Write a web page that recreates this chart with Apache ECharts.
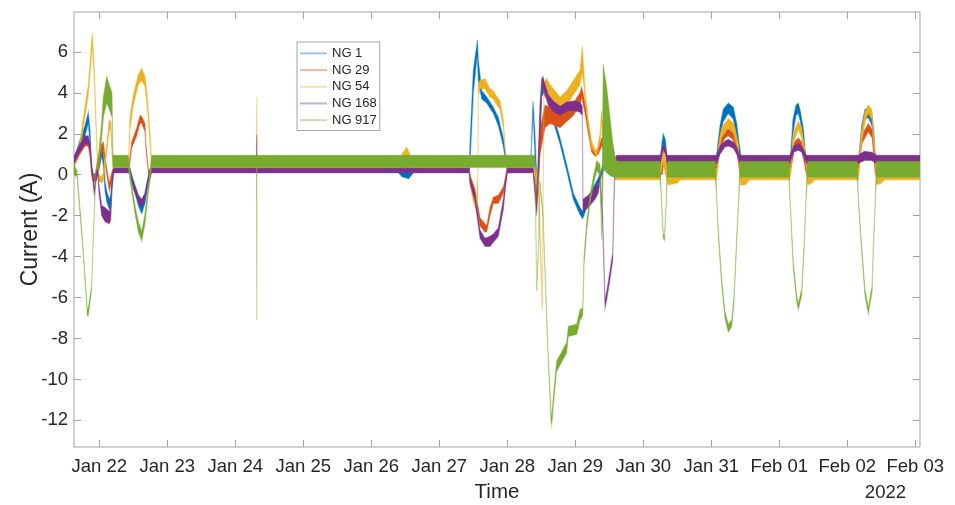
<!DOCTYPE html>
<html><head><meta charset="utf-8">
<script src="https://cdn.jsdelivr.net/npm/echarts@6/dist/echarts.min.js"></script>
<style>html,body{margin:0;padding:0;background:#fff}#chart{width:955px;height:505px}</style>
</head><body><div id="chart"></div>
<script>
// time in days of January 2022 (Feb 01 = 32), each row: [time, low envelope, high envelope] in A
const seriesNames = ['NG 1', 'NG 29', 'NG 54', 'NG 168', 'NG 917'];
const dayTicks = [22, 23, 24, 25, 26, 27, 28, 29, 30, 31, 32, 33, 34];
const dayLabels = ['Jan 22', 'Jan 23', 'Jan 24', 'Jan 25', 'Jan 26', 'Jan 27', 'Jan 28', 'Jan 29', 'Jan 30', 'Jan 31', 'Feb 01', 'Feb 02', 'Feb 03'];
const currentTicks = [-12, -10, -8, -6, -4, -2, 0, 2, 4, 6];
const yearLabel = '2022';

const ng1 = [
  [21.628,0.5,0.8],[21.716,1.3,1.7],[21.790,1.9,2.4],[21.838,2.5,3.05],[21.863,1.5,2.2],[21.888,0.0,0.4],
  [21.912,-0.3,0.0],[21.951,-0.3,0.1],[21.996,0.3,0.8],[22.035,0.9,1.4],[22.059,0.5,1.1],[22.084,-0.8,-0.3],
  [22.109,-1.3,-0.8],[22.147,-1.7,-1.2],[22.168,-1.6,-1.0],[22.187,-0.5,0.1],[22.209,0.1,0.3],
  [22.45,0.1,0.3],[22.476,-0.3,0.0],[22.525,-0.9,-0.5],[22.574,-1.5,-1.0],[22.624,-1.9,-1.3],[22.672,-1.4,-0.9],
  [22.706,-0.7,-0.3],[22.746,0.0,0.25],[22.771,0.1,0.3],
  [26.40,0.1,0.3],[26.45,-0.1,0.3],[26.55,-0.2,0.3],[26.62,0.1,0.3],
  [27.44,0.1,0.3],[27.451,0.5,1.5],[27.50,4.0,5.1],[27.55,5.6,6.3],[27.559,5.8,6.6],[27.574,4.6,5.6],
  [27.624,3.7,4.1],[27.697,3.5,3.8],[27.794,3.0,3.3],[27.868,2.4,2.8],[27.941,1.4,1.8],[27.981,0.5,0.8],[28.0,0.1,0.3],
  [28.34,0.1,0.3],[28.378,3.0,3.6],[28.407,1.0,2.0],[28.432,-0.9,0.0],[28.456,-0.9,-0.3],[28.481,1.5,2.5],
  [28.506,3.8,4.3],[28.554,4.1,4.5],[28.579,3.9,4.3],[28.628,3.2,3.6],[28.676,2.6,2.9],[28.775,1.5,1.8],
  [28.873,0.2,0.5],[28.971,-1.2,-0.9],[29.069,-1.95,-1.6],[29.109,-2.15,-1.8],[29.168,-1.6,-1.3],
  [29.265,-0.9,-0.6],[29.363,-0.3,0.0],[29.437,0.4,0.9],[29.485,0.6,1.3],[29.535,0.2,0.9],[29.569,0.0,0.5],
  [30.245,0.0,0.5],[30.275,1.1,1.6],[30.294,1.5,2.0],[30.326,1.2,1.7],[30.349,0.3,0.8],[30.371,0.0,0.5],
  [31.06,0.0,0.5],[31.103,1.2,1.7],[31.128,1.9,2.4],[31.176,2.6,3.2],[31.25,3.0,3.5],[31.324,2.7,3.3],
  [31.374,1.9,2.5],[31.403,1.2,1.7],[31.451,0.0,0.6],[31.47,0.0,0.5],
  [32.157,0.0,0.5],[32.20,2.0,2.7],[32.245,2.9,3.4],[32.279,3.0,3.5],[32.31,2.6,3.1],[32.356,1.6,2.2],
  [32.39,0.2,0.8],[32.42,0.0,0.5],
  [33.162,0.0,0.5],[33.21,1.8,2.4],[33.26,2.7,3.2],[33.309,2.8,3.25],[33.36,2.4,3.0],[33.39,1.5,2.1],
  [33.415,0.2,0.7],[33.43,0.0,0.5],[34.069,0.0,0.5]
];

const ng29 = [
  [21.628,0.4,0.7],[21.716,1.0,1.4],[21.790,1.4,1.8],[21.838,1.4,1.7],[21.863,0.9,1.3],[21.888,0.0,0.3],
  [21.912,-0.3,0.0],[21.951,-0.3,0.0],[21.996,0.3,0.7],[22.035,1.1,1.5],[22.059,1.2,1.6],[22.109,0.0,0.3],
  [22.147,-0.8,-0.4],[22.168,-0.5,-0.1],[22.197,0.1,0.25],
  [22.426,0.13,0.22],[22.451,0.6,0.9],[22.476,1.3,1.6],[22.55,1.9,2.3],[22.599,2.5,2.9],[22.624,2.5,2.85],
  [22.672,2.1,2.5],[22.687,1.2,1.5],[22.721,0.1,0.3],[22.746,-0.2,0.0],[22.771,0.13,0.22],
  [27.44,0.13,0.22],[27.451,-0.3,0.0],[27.525,-1.0,-0.7],[27.599,-2.5,-2.1],[27.672,-2.8,-2.4],[27.697,-2.8,-2.5],
  [27.746,-2.0,-1.6],[27.794,-1.4,-1.1],[27.868,-1.4,-1.0],[27.941,-0.9,-0.6],[27.981,-0.3,0.0],[28.0,0.13,0.22],
  [28.38,0.13,0.22],[28.432,-1.5,-0.8],[28.481,1.0,2.2],[28.554,2.3,3.4],[28.628,2.5,3.3],[28.775,2.3,3.1],
  [28.873,2.6,3.2],[28.971,2.9,3.5],[29.069,3.4,4.0],[29.094,3.8,4.3],[29.143,3.0,3.5],[29.191,2.0,2.4],
  [29.241,1.1,1.4],[29.29,0.9,1.1],[29.338,1.0,1.3],[29.388,1.4,1.8],[29.437,1.0,1.7],[29.51,0.9,1.6],
  [29.55,0.7,1.3],[29.584,0.0,0.5],
  [30.28,0.0,0.5],[30.30,0.6,1.0],[30.33,0.0,0.5],
  [31.079,0.0,0.5],[31.128,1.3,1.7],[31.20,1.8,2.2],[31.25,1.9,2.25],[31.324,1.7,2.1],[31.374,1.2,1.6],[31.42,0.0,0.5],
  [32.157,0.0,0.5],[32.22,1.2,1.6],[32.279,1.5,1.8],[32.33,1.2,1.6],[32.40,0.0,0.5],
  [33.162,0.0,0.5],[33.21,1.5,1.9],[33.309,2.1,2.5],[33.365,1.8,2.2],[33.412,0.0,0.5],[34.069,0.0,0.5]
];

const ng54 = [
  [21.628,0.4,0.7],[21.716,1.1,1.6],[21.765,2.3,2.8],[21.838,3.9,4.4],[21.875,5.4,6.0],[21.897,6.3,6.95],
  [21.926,4.6,5.2],[21.951,2.3,2.8],[21.976,0.2,0.5],[21.996,-0.3,0.0],[22.035,-0.4,-0.1],[22.059,-0.3,0.1],
  [22.109,1.1,1.5],[22.147,2.2,2.7],[22.168,2.2,2.6],[22.187,1.0,1.5],[22.209,0.15,0.35],
  [22.426,0.15,0.35],[22.451,2.2,2.8],[22.5,3.4,3.9],[22.574,4.4,4.9],[22.624,4.6,5.2],[22.672,4.3,4.8],
  [22.706,3.3,3.8],[22.746,1.5,2.0],[22.771,0.2,0.5],[22.79,0.15,0.35],
  [24.31,0.15,0.35],[24.315,0.15,3.8],[24.32,0.15,0.35],
  [26.40,0.15,0.35],[26.45,0.15,1.0],[26.52,0.15,1.35],[26.58,0.15,0.9],[26.62,0.15,0.35],
  [27.44,0.15,0.35],[27.451,-0.5,0.0],[27.5,-1.3,-0.8],[27.55,-1.8,-1.2],[27.566,-1.0,0.0],[27.574,3.8,4.4],
  [27.599,4.2,4.6],[27.672,4.2,4.7],[27.746,3.8,4.2],[27.794,3.7,4.1],[27.868,3.3,3.7],[27.893,3.2,3.6],
  [27.941,2.3,2.7],[27.966,1.3,1.5],[27.981,0.4,0.6],[28.0,0.15,0.35],
  [28.40,0.15,0.35],[28.456,-1.0,0.0],[28.515,-6.6,-6.2],[28.54,3.8,4.5],[28.579,4.0,4.7],[28.628,3.6,4.4],
  [28.775,3.0,3.8],[28.873,3.4,4.1],[28.971,3.9,4.6],[29.069,4.4,5.1],[29.103,5.0,6.3],[29.128,4.3,5.0],
  [29.143,3.6,4.1],[29.191,2.3,2.7],[29.241,1.3,1.6],[29.315,0.9,1.1],[29.363,1.6,2.0],[29.388,2.5,3.2],
  [29.403,1.7,2.2],[29.437,0.6,1.3],[29.51,0.5,1.2],[29.559,0.3,0.8],[29.584,-0.25,0.3],
  [30.245,-0.25,0.3],[30.28,0.5,1.1],[30.30,0.6,1.2],[30.34,-0.2,0.5],[30.37,-0.5,0.1],[30.50,-0.4,0.2],[30.55,-0.25,0.3],
  [31.079,-0.25,0.3],[31.10,0.8,1.3],[31.15,1.8,2.3],[31.25,2.3,2.75],[31.33,2.0,2.5],[31.40,1.0,1.5],
  [31.43,-0.5,0.2],[31.50,-0.5,0.1],[31.56,-0.25,0.3],
  [32.157,-0.25,0.3],[32.21,1.6,2.1],[32.279,2.2,2.6],[32.33,1.8,2.3],[32.39,0.4,0.9],[32.42,-0.5,0.1],
  [32.48,-0.4,0.2],[32.52,-0.25,0.3],
  [33.162,-0.25,0.3],[33.21,1.5,2.2],[33.26,2.6,3.1],[33.309,3.0,3.4],[33.36,2.7,3.2],[33.40,1.0,1.6],
  [33.43,-0.5,0.1],[33.50,-0.4,0.2],[33.55,-0.25,0.3],[34.069,-0.25,0.3]
];

const ng168 = [
  [21.628,0.55,0.9],[21.716,1.1,1.5],[21.790,1.5,1.9],[21.838,1.5,1.9],[21.863,1.1,1.5],[21.888,0.2,0.5],
  [21.912,-0.5,-0.2],[21.926,-1.0,-0.6],[21.951,-0.3,0.1],[21.976,0.0,0.3],[21.996,-0.9,-0.5],[22.035,-2.0,-1.5],
  [22.084,-2.3,-1.6],[22.147,-2.4,-1.8],[22.168,-2.2,-1.6],[22.187,-0.8,-0.2],[22.209,0.1,0.33],
  [22.45,0.1,0.33],[22.5,-0.7,-0.4],[22.574,-1.3,-1.0],[22.624,-1.6,-1.2],[22.672,-1.2,-0.9],[22.706,-0.6,-0.3],
  [22.746,0.0,0.3],[22.771,0.1,0.33],
  [24.31,0.1,0.33],[24.315,0.1,1.95],[24.32,0.1,0.33],
  [27.44,0.1,0.33],[27.451,-0.4,-0.1],[27.525,-1.3,-0.9],[27.599,-3.1,-2.7],[27.672,-3.5,-3.1],[27.746,-3.5,-3.0],
  [27.794,-3.3,-2.9],[27.868,-3.0,-2.6],[27.941,-1.7,-1.2],[27.981,-0.4,0.0],[28.0,0.1,0.33],
  [28.38,0.1,0.33],[28.432,-2.0,-1.4],[28.481,2.0,3.5],[28.506,4.2,4.7],[28.525,4.3,4.8],[28.554,3.9,4.4],
  [28.603,3.4,3.9],[28.676,3.1,3.6],[28.775,2.9,3.35],[28.873,3.1,3.55],[28.971,3.15,3.6],[29.069,3.05,3.55],
  [29.103,2.9,3.35],[29.113,-1.8,-1.2],[29.191,-1.6,-1.0],[29.29,-1.2,-0.6],[29.338,-0.9,-0.5],[29.363,-0.3,0.1],
  [29.403,-2.5,-2.0],[29.437,-6.5,-6.1],[29.462,-6.1,-5.7],[29.51,-5.1,-4.7],[29.55,-4.2,-3.8],[29.569,-1.4,-1.0],
  [29.584,0.4,0.8],[29.61,0.55,0.95],
  [30.25,0.55,0.95],[30.275,1.0,1.3],[30.294,1.2,1.45],[30.326,1.0,1.3],[30.35,0.55,0.95],
  [31.079,0.55,0.95],[31.128,1.0,1.4],[31.20,1.35,1.65],[31.25,1.4,1.73],[31.324,1.3,1.6],[31.374,1.0,1.35],[31.42,0.55,0.95],
  [32.157,0.55,0.95],[32.21,1.1,1.4],[32.279,1.2,1.53],[32.33,1.1,1.4],[32.40,0.55,0.95],
  [33.162,0.55,0.95],[33.25,0.7,1.15],[33.36,0.7,1.1],[33.43,0.55,0.95],[34.069,0.55,0.95]
];

const ng917 = [
  [21.628,0.0,0.5],[21.672,-0.1,0.2],[21.765,-3.9,-3.7],[21.824,-6.9,-6.6],[21.838,-6.9,-6.5],[21.888,-5.6,-5.4],
  [21.912,-3.1,-2.9],[21.951,0.1,0.3],[21.996,0.6,1.2],[22.035,1.8,2.6],[22.059,2.8,3.8],[22.109,3.5,4.8],
  [22.147,3.2,4.4],[22.187,2.8,4.0],[22.20,0.35,0.95],
  [22.426,0.35,0.95],[22.476,-0.8,-0.5],[22.525,-1.9,-1.5],[22.574,-2.8,-2.3],[22.624,-3.25,-2.75],
  [22.672,-2.4,-1.9],[22.721,-0.9,-0.5],[22.771,0.35,0.95],
  [24.312,0.35,0.95],[24.315,-7.1,0.95],[24.318,0.35,0.95],
  [28.407,0.35,0.95],[28.432,-5.7,-5.5],[28.456,-4.0,-3.8],[28.481,-0.5,-0.3],[28.525,-2.1,-1.9],
  [28.603,-9.2,-8.9],[28.643,-12.0,-11.6],[28.653,-12.25,-11.8],[28.676,-11.3,-10.9],[28.726,-9.6,-9.1],
  [28.824,-9.0,-8.5],[28.873,-8.7,-8.2],[28.897,-7.9,-7.4],[29.021,-7.8,-7.3],[29.069,-7.1,-6.6],
  [29.109,-6.9,-6.5],[29.128,-4.4,-4.0],[29.168,-2.7,-2.3],[29.216,-1.4,-1.0],[29.265,-0.5,-0.1],
  [29.315,0.2,0.7],[29.363,0.0,0.5],[29.388,-3.2,-2.8],[29.41,0.3,5.4],[29.437,0.2,4.8],[29.462,0.1,4.3],
  [29.51,-0.05,2.8],[29.55,-0.1,1.6],[29.584,-0.12,0.9],[29.61,-0.12,0.65],
  [30.245,-0.12,0.65],[30.262,-1.0,-0.8],[30.294,-3.1,-2.9],[30.312,-3.2,-2.95],[30.335,-1.6,-1.4],[30.355,-0.12,0.65],
  [31.06,-0.12,0.65],[31.079,-1.3,-1.1],[31.103,-3.0,-2.7],[31.153,-5.4,-5.1],[31.201,-7.0,-6.7],[31.25,-7.7,-7.3],
  [31.30,-7.4,-7.1],[31.334,-6.2,-5.9],[31.374,-3.3,-3.0],[31.403,-1.3,-1.1],[31.422,-0.12,0.65],
  [32.14,-0.12,0.65],[32.157,-1.3,-1.1],[32.206,-4.6,-4.3],[32.256,-6.2,-5.9],[32.279,-6.6,-6.3],[32.329,-5.9,-5.6],
  [32.363,-3.8,-3.5],[32.393,-1.3,-1.1],[32.415,-0.12,0.65],
  [33.145,-0.12,0.65],[33.162,-1.3,-1.1],[33.212,-3.8,-3.5],[33.26,-5.9,-5.6],[33.309,-6.8,-6.5],[33.365,-5.7,-5.4],
  [33.382,-3.8,-3.5],[33.412,-1.3,-1.1],[33.429,-0.12,0.65],[34.069,-0.12,0.65]
];

const seriesData = [ng1, ng29, ng54, ng168, ng917];
const colors = ['#0072BD', '#D95319', '#EDB120', '#7E2F8E', '#77AC30'];
const paleColors = ['rgba(0,114,189,0.4)', 'rgba(217,83,25,0.4)', 'rgba(237,177,32,0.4)', 'rgba(126,47,142,0.4)', 'rgba(119,172,48,0.4)'];

const FONT = '"Liberation Sans", Arial, Helvetica, sans-serif';
const AXIS_GRAY = '#a3a3a3';
const TEXT = '#262626';
const xMin = 21.628, xMax = 34.069, yMin = -13.3, yMax = 7.95;

function labelFor(v) {
  const i = dayTicks.indexOf(Math.round(v));
  return i >= 0 ? dayLabels[i] : '';
}

function bandSeries(i) {
  const color = colors[i], pale = paleColors[i];
  return {
    type: 'custom', name: seriesNames[i], data: seriesData[i],
    xAxisIndex: 0, yAxisIndex: 0, clip: true, silent: true,
    encode: { x: 0, y: [1, 2] },
    itemStyle: { color: color },
    renderItem: function (params, api) {
      if (params.dataIndexInside !== 0) return null;
      const n = params.dataInsideLength;
      const lower = [], upper = [];
      for (let k = 0; k < n; k++) {
        const t = api.value(0, k);
        lower.push(api.coord([t, api.value(1, k)]));
        upper.push(api.coord([t, api.value(2, k)]));
      }
      return {
        type: 'polygon',
        shape: { points: lower.concat(upper.reverse()) },
        style: { fill: color, stroke: pale, lineWidth: 1.2 }
      };
    }
  };
}

const chart = echarts.init(document.getElementById('chart'), null, { renderer: 'canvas' });
const axisCommon = {
  type: 'value', min: xMin, max: xMax,
  axisLine: { show: false, onZero: false },
  splitLine: { show: false }
};
chart.setOption({
  animation: false,
  backgroundColor: '#fff',
  grid: { left: 74, right: 35, top: 12, bottom: 58, show: true, borderColor: AXIS_GRAY, borderWidth: 1,
          containLabel: false, outerBoundsMode: 'none' },
  xAxis: [
    Object.assign({}, axisCommon, {
      position: 'bottom',
      axisTick: { inside: true, length: 7, customValues: dayTicks, lineStyle: { color: AXIS_GRAY } },
      axisLabel: { customValues: dayTicks, formatter: labelFor, fontSize: 18.5, color: TEXT, fontFamily: FONT, margin: 10 },
      name: 'Time', nameLocation: 'middle', nameGap: 35, nameMoveOverlap: false,
      nameTextStyle: { fontSize: 20.5, color: TEXT, fontFamily: FONT }
    }),
    Object.assign({}, axisCommon, {
      position: 'top',
      axisTick: { inside: true, length: 7, customValues: dayTicks, lineStyle: { color: AXIS_GRAY } },
      axisLabel: { show: false }
    })
  ],
  yAxis: [
    {
      type: 'value', min: yMin, max: yMax, position: 'left',
      axisLine: { show: false, onZero: false }, splitLine: { show: false },
      axisTick: { inside: true, length: 7, customValues: currentTicks, lineStyle: { color: AXIS_GRAY } },
      axisLabel: { customValues: currentTicks, fontSize: 18.5, color: TEXT, fontFamily: FONT, margin: 6 },
      name: 'Current (A)', nameLocation: 'middle', nameGap: 32, nameRotate: 90, nameMoveOverlap: false,
      nameTextStyle: { fontSize: 23, color: TEXT, fontFamily: FONT }
    },
    {
      type: 'value', min: yMin, max: yMax, position: 'right',
      axisLine: { show: false, onZero: false }, splitLine: { show: false },
      axisTick: { inside: true, length: 7, customValues: currentTicks, lineStyle: { color: AXIS_GRAY } },
      axisLabel: { show: false }
    }
  ],
  legend: {
    orient: 'vertical', left: 297, top: 42,
    padding: [4, 3, 3, 3],
    itemWidth: 27, itemHeight: 2, itemGap: 2,
    selectedMode: false,
    backgroundColor: '#fff', borderColor: AXIS_GRAY, borderWidth: 1,
    textStyle: { fontSize: 13, fontFamily: FONT, color: TEXT, lineHeight: 14.7 },
    data: seriesNames.map((n, i) => ({ name: n, icon: 'rect', itemStyle: { color: paleColors[i] } }))
  },
  graphic: [{
    type: 'text', x: 906, y: 493,
    style: { text: yearLabel, fontSize: 18.5, fontFamily: FONT, fill: TEXT, textAlign: 'right', textVerticalAlign: 'middle' }
  }],
  series: [0, 1, 2, 3, 4].map(bandSeries)
});
</script>
</body></html>
